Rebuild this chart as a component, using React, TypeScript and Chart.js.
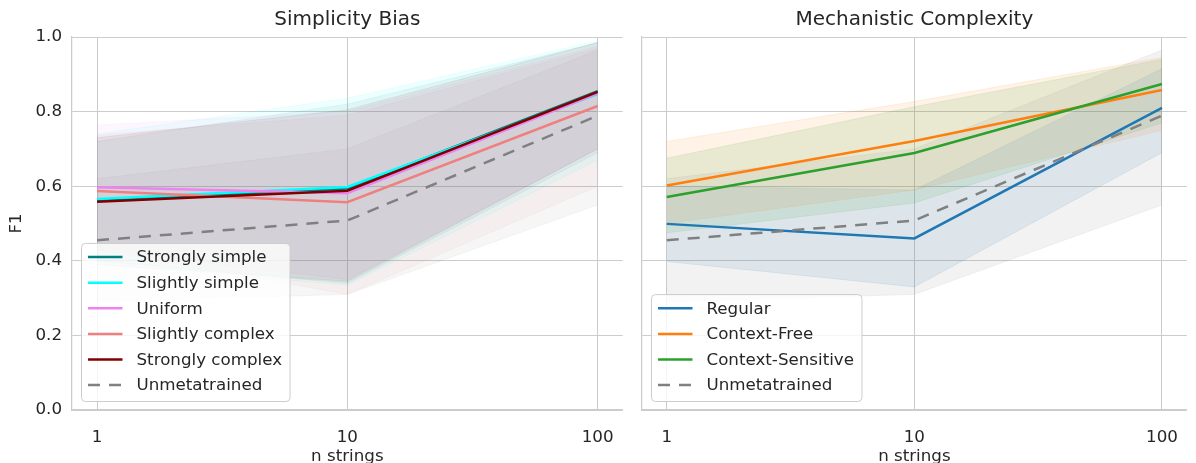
import React, { useEffect, useRef } from "react";
import { Chart, registerables } from "chart.js";

Chart.register(...registerables);

// ---------- data ----------
const nStrings = [1, 10, 100];
const xTickValues = [1, 10, 100];
const yTickValues = [0, 0.2, 0.4, 0.6, 0.8, 1.0];

// Simplicity Bias panel
const stronglySimpleMean = [0.562, 0.594, 0.855];
const stronglySimpleUpper = [0.72, 0.82, 0.985];
const stronglySimpleLower = [0.4, 0.34, 0.69];

const slightlySimpleMean = [0.566, 0.598, 0.847];
const slightlySimpleUpper = [0.74, 0.836, 0.99];
const slightlySimpleLower = [0.39, 0.335, 0.67];

const uniformMean = [0.597, 0.581, 0.849];
const uniformUpper = [0.764, 0.8, 0.975];
const uniformLower = [0.43, 0.35, 0.7];

const slightlyComplexMean = [0.587, 0.557, 0.815];
const slightlyComplexUpper = [0.737, 0.79, 0.97];
const slightlyComplexLower = [0.43, 0.31, 0.6];

const stronglyComplexMean = [0.558, 0.588, 0.853];
const stronglyComplexUpper = [0.73, 0.805, 0.985];
const stronglyComplexLower = [0.39, 0.345, 0.7];

const unmetatrainedMean = [0.455, 0.508, 0.789];
const unmetatrainedUpper = [0.62, 0.7, 0.965];
const unmetatrainedLower = [0.29, 0.31, 0.55];

// Mechanistic Complexity panel
const regularMean = [0.499, 0.46, 0.81];
const regularUpper = [0.6, 0.59, 0.915];
const regularLower = [0.398, 0.33, 0.69];

const contextFreeMean = [0.602, 0.721, 0.858];
const contextFreeUpper = [0.72, 0.827, 0.945];
const contextFreeLower = [0.5, 0.59, 0.75];

const contextSensitiveMean = [0.571, 0.689, 0.874];
const contextSensitiveUpper = [0.675, 0.813, 0.94];
const contextSensitiveLower = [0.475, 0.555, 0.77];

// ---------- styling ----------
const FONT = '"DejaVu Sans", "Noto Sans", sans-serif';
const TEXT = "#262626";
const GRID = "#cccccc";
const FS = 16.7;

type Series = {
  label: string;
  rgb: [number, number, number];
  mean: number[];
  upper: number[];
  lower: number[];
  dashed?: boolean;
};

const biasSeries: Series[] = [
  { label: "Strongly simple", rgb: [0, 128, 128], mean: stronglySimpleMean, upper: stronglySimpleUpper, lower: stronglySimpleLower },
  { label: "Slightly simple", rgb: [0, 255, 255], mean: slightlySimpleMean, upper: slightlySimpleUpper, lower: slightlySimpleLower },
  { label: "Uniform", rgb: [238, 130, 238], mean: uniformMean, upper: uniformUpper, lower: uniformLower },
  { label: "Slightly complex", rgb: [240, 128, 128], mean: slightlyComplexMean, upper: slightlyComplexUpper, lower: slightlyComplexLower },
  { label: "Strongly complex", rgb: [128, 0, 0], mean: stronglyComplexMean, upper: stronglyComplexUpper, lower: stronglyComplexLower },
  { label: "Unmetatrained", rgb: [128, 128, 128], mean: unmetatrainedMean, upper: unmetatrainedUpper, lower: unmetatrainedLower, dashed: true },
];

const mechSeries: Series[] = [
  { label: "Regular", rgb: [31, 119, 180], mean: regularMean, upper: regularUpper, lower: regularLower },
  { label: "Context-Free", rgb: [255, 127, 14], mean: contextFreeMean, upper: contextFreeUpper, lower: contextFreeLower },
  { label: "Context-Sensitive", rgb: [44, 160, 44], mean: contextSensitiveMean, upper: contextSensitiveUpper, lower: contextSensitiveLower },
  { label: "Unmetatrained", rgb: [128, 128, 128], mean: unmetatrainedMean, upper: unmetatrainedUpper, lower: unmetatrainedLower, dashed: true },
];

const DASH = [12, 9];

const rgba = (c: [number, number, number], a: number) => `rgba(${c[0]},${c[1]},${c[2]},${a})`;
const pts = (arr: number[]) => nStrings.map((x, i) => ({ x, y: arr[i] }));

function buildDatasets(series: Series[], bandAlpha: number) {
  const ds: any[] = [];
  series.forEach((s, i) => {
    ds.push({
      data: pts(s.upper),
      borderColor: rgba(s.rgb, bandAlpha),
      borderWidth: 1,
      backgroundColor: rgba(s.rgb, bandAlpha),
      fill: "+1",
      pointRadius: 0,
      order: 100 - i,
      tension: 0,
    });
    ds.push({
      data: pts(s.lower),
      borderColor: rgba(s.rgb, bandAlpha),
      borderWidth: 1,
      fill: false,
      pointRadius: 0,
      order: 100 - i,
      tension: 0,
    });
  });
  series.forEach((s, i) => {
    ds.push({
      label: s.label,
      data: pts(s.mean),
      borderColor: rgba(s.rgb, 1),
      borderWidth: 2.5,
      borderDash: s.dashed ? DASH : [],
      fill: false,
      pointRadius: 0,
      order: 50 - i,
      tension: 0,
    });
  });
  return ds;
}

const decoPlugin = {
  id: "panelDeco",
  afterDraw(chart: any, _args: any, opts: any) {
    const { ctx, chartArea } = chart;
    ctx.save();
    // title
    ctx.font = `20px ${FONT}`;
    ctx.fillStyle = TEXT;
    ctx.textAlign = "center";
    ctx.textBaseline = "middle";
    ctx.fillText(opts.title, (chartArea.left + chartArea.right) / 2, 20);

    // legend
    const items: Series[] = opts.items;
    ctx.font = `${FS}px ${FONT}`;
    const rowH = 25.6;
    let maxW = 0;
    items.forEach((it) => (maxW = Math.max(maxW, ctx.measureText(it.label).width)));
    const boxW = 55 + maxW + 8;
    const boxH = items.length * rowH + 4.5;
    const left = chartArea.left + 9.5;
    const bottom = chartArea.bottom - 8.5;
    const top = bottom - boxH;
    ctx.beginPath();
    if (ctx.roundRect) ctx.roundRect(left, top, boxW, boxH, 4);
    else ctx.rect(left, top, boxW, boxH);
    ctx.fillStyle = "rgba(255,255,255,0.8)";
    ctx.fill();
    ctx.strokeStyle = GRID;
    ctx.lineWidth = 1;
    ctx.stroke();
    items.forEach((it, i) => {
      const y = top + 13.7 + i * rowH;
      ctx.strokeStyle = rgba(it.rgb, 1);
      ctx.lineWidth = 2.5;
      ctx.setLineDash(it.dashed ? DASH : []);
      ctx.beginPath();
      ctx.moveTo(left + 6.5, y);
      ctx.lineTo(left + 41, y);
      ctx.stroke();
      ctx.setLineDash([]);
      ctx.fillStyle = TEXT;
      ctx.textAlign = "left";
      ctx.textBaseline = "middle";
      ctx.fillText(it.label, left + 55, y + 1);
    });
    ctx.restore();
  },
};

function makeConfig(series: Series[], title: string, showY: boolean, yAxisWidth: number, padRight: number, bandAlpha: number): any {
  return {
    type: "line",
    data: { datasets: buildDatasets(series, bandAlpha) },
    plugins: [decoPlugin],
    options: {
      animation: false,
      responsive: false,
      events: [],
      layout: { padding: { top: 37, right: padRight, left: 0, bottom: 0 } },
      plugins: {
        legend: { display: false },
        tooltip: { enabled: false },
        title: { display: false },
        panelDeco: { title, items: series },
      },
      scales: {
        x: {
          type: "logarithmic",
          min: Math.pow(10, -0.1),
          max: Math.pow(10, 2.1),
          afterBuildTicks: (scale: any) => {
            scale.ticks = xTickValues.map((v) => ({ value: v }));
          },
          afterFit: (scale: any) => {
            scale.height = 53;
          },
          ticks: {
            autoSkip: false,
            maxRotation: 0,
            padding: 18,
            color: TEXT,
            font: { family: FONT, size: FS },
            callback: (v: any) => String(v),
          },
          grid: { color: GRID, lineWidth: 1, drawTicks: false },
          border: { display: true, color: GRID, width: 1.25 },
          title: {
            display: true,
            text: "n strings",
            color: TEXT,
            font: { family: FONT, size: FS, lineHeight: 1.0 },
            padding: { top: -2, bottom: -2 },
          },
        },
        y: {
          type: "linear",
          min: 0,
          max: 1,
          afterBuildTicks: (scale: any) => {
            scale.ticks = yTickValues.map((v) => ({ value: v }));
          },
          afterFit: (scale: any) => {
            scale.width = yAxisWidth;
          },
          ticks: {
            display: showY,
            padding: 10,
            color: TEXT,
            font: { family: FONT, size: FS },
            callback: (v: any) => Number(v).toFixed(1),
          },
          grid: { color: GRID, lineWidth: 1, drawTicks: false },
          border: { display: true, color: GRID, width: 1.25 },
          title: {
            display: showY,
            text: "F1",
            color: TEXT,
            font: { family: FONT, size: FS, lineHeight: 1.2 },
            padding: { top: 7, bottom: 0 },
          },
        },
      },
    },
  };
}

function Panel(props: { series: Series[]; title: string; showY: boolean; yAxisWidth: number; padRight: number; left: number; width: number; bandAlpha: number }) {
  const ref = useRef<HTMLCanvasElement | null>(null);
  useEffect(() => {
    if (!ref.current) return;
    const chart = new Chart(ref.current, makeConfig(props.series, props.title, props.showY, props.yAxisWidth, props.padRight, props.bandAlpha));
    return () => chart.destroy();
  }, []);
  return (
    <canvas
      ref={ref}
      width={props.width}
      height={463}
      style={{ position: "absolute", left: props.left, top: 0, width: props.width, height: 463 }}
    />
  );
}

export default function App() {
  return (
    <div style={{ position: "fixed", left: 0, top: 0, width: 1196, height: 463, background: "#ffffff", overflow: "hidden" }}>
      <Panel series={biasSeries} title="Simplicity Bias" showY={true} yAxisWidth={72} padRight={9} left={0} width={632} bandAlpha={0.07} />
      <Panel series={mechSeries} title="Mechanistic Complexity" showY={false} yAxisWidth={10} padRight={2} left={632} width={564} bandAlpha={0.1} />
    </div>
  );
}
